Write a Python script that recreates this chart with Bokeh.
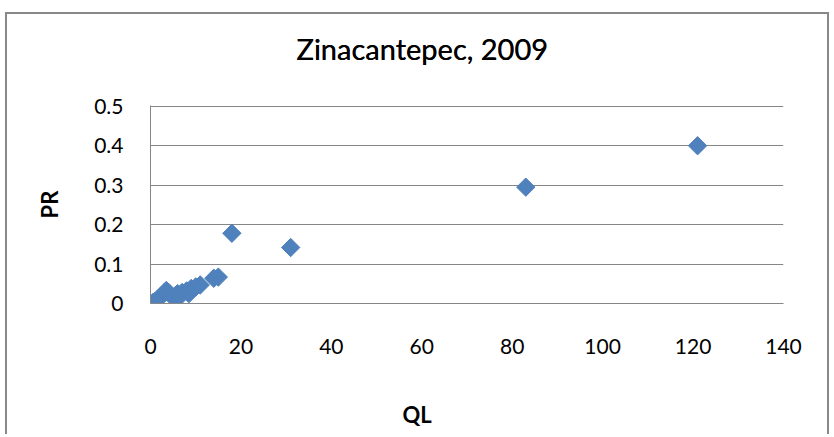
import numpy as np
from bokeh.plotting import figure
from bokeh.models import Range1d, FixedTicker, Title
from bokeh.embed import file_html
from bokeh.resources import INLINE

# Data (QL vs PR)
ql = [0.5, 1.0, 1.5, 2.0, 2.5, 3.0, 3.5, 4.0, 5.0, 5.5, 6.0, 6.5, 7.0, 8.0, 8.5,
      9.0, 10.0, 11.0, 14.0, 15.0, 18.0, 31.0, 83.0, 121.0]
pr = [0.002, 0.006, 0.010, 0.015, 0.020, 0.027, 0.033, 0.028, 0.015, 0.020, 0.025,
      0.018, 0.028, 0.032, 0.025, 0.038, 0.042, 0.047, 0.064, 0.067, 0.178, 0.142,
      0.295, 0.400]

x_ticks = [0, 20, 40, 60, 80, 100, 120, 140]
y_ticks = [0, 0.1, 0.2, 0.3, 0.4, 0.5]
y_tick_labels = ["0", "0.1", "0.2", "0.3", "0.4", "0.5"]

title_text = "Zinacantepec, 2009"
x_title = "QL"
y_title = "PR"

FONT = "Lato"
GRID = "#868686"
BLUE = "#4F81BD"

p = figure(width=824, height=422, output_backend="svg", toolbar_location=None,
           x_range=Range1d(0, 140), y_range=Range1d(0, 0.502),
           min_border_left=143, min_border_right=48, min_border_top=91,
           min_border_bottom=133,
           styles={"margin-left": "5px", "margin-top": "12px",
                   "border-top": "2px solid #888888",
                   "border-left": "2px solid #888888",
                   "border-right": "2px solid #888888"})
p.outline_line_color = None
p.background_fill_color = "white"
p.border_fill_color = "white"

# Chart title (centered over the whole chart, not the plot area)
main_title = p.title
main_title.text = title_text
main_title.align = "left"
main_title.offset = 146
main_title.text_font = FONT
main_title.text_font_size = "29px"
main_title.text_font_style = "normal"
main_title.text_color = "black"
main_title.standoff = 0
top_gap = Title(text=" ", text_font=FONT, text_font_size="1px", standoff=0)
p.above = [top_gap, main_title]

p.xgrid.grid_line_color = None
p.ygrid.grid_line_color = GRID
p.ygrid.grid_line_width = 1
p.ygrid.ticker = FixedTicker(ticks=y_ticks)

p.xaxis.ticker = FixedTicker(ticks=x_ticks)
p.yaxis.ticker = FixedTicker(ticks=y_ticks)
p.yaxis.major_label_overrides = {t: l for t, l in zip(y_ticks, y_tick_labels)}

for ax in (p.xaxis, p.yaxis):
    ax.axis_line_color = GRID
    ax.axis_line_width = 1
    ax.major_tick_line_color = None
    ax.minor_tick_line_color = None
    ax.major_tick_out = 0
    ax.major_tick_in = 0
    ax.major_label_text_font = FONT
    ax.major_label_text_font_size = "21px"
    ax.major_label_text_color = "black"

p.xaxis.major_label_standoff = 35
p.yaxis.major_label_standoff = 27

p.yaxis.axis_label = y_title
p.yaxis.axis_label_text_font = FONT
p.yaxis.axis_label_text_font_size = "22px"
p.yaxis.axis_label_text_font_style = "bold"
p.yaxis.axis_label_text_color = "black"
p.yaxis.axis_label_standoff = 28

xaxis = p.xaxis[0]
bottom_gap = Title(text=" ", text_font=FONT, text_font_size="1px", standoff=39)
ql_title = Title(text=x_title, align="left", offset=252, text_font=FONT,
                 text_font_size="22px", text_font_style="bold", text_color="black",
                 standoff=0)
p.below = [xaxis, bottom_gap, ql_title]

p.scatter(ql, pr, marker="square", size=13, angle=np.pi / 4,
          fill_color=BLUE, line_color=BLUE, line_width=1)

open("out.html", "w").write(file_html(p, INLINE))
